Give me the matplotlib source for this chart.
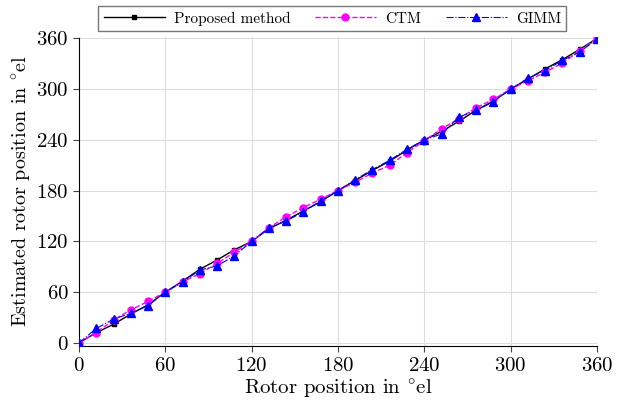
import numpy as np
import matplotlib.pyplot as plt

plt.rcParams['font.family'] = 'serif'
plt.rcParams['font.serif'] = ['cmr10']
plt.rcParams['mathtext.fontset'] = 'cm'
plt.rcParams['axes.formatter.use_mathtext'] = True

# rotor positions (deg el), every 12 deg
theta = np.arange(0, 361, 12)

proposed = [0, 12, 22, 34, 45, 60, 73, 87, 98, 110, 120, 135, 145, 156, 167, 180,
            192, 204, 215, 228, 240, 250, 262, 275, 286, 300, 312, 324, 335, 347, 360]
ctm = [0, 12, 27, 39, 49, 60, 72, 82, 94, 107, 120, 136, 149, 160, 170, 180,
       190, 201, 210, 225, 239, 253, 265, 278, 288, 300, 310, 320, 331, 345, 360]
gimm = [0, 17, 28, 35, 44, 60, 72, 86, 91, 103, 120, 136, 144, 155, 168, 180,
        193, 205, 216, 229, 240, 247, 267, 275, 285, 300, 313, 322, 334, 344, 359]

fig = plt.figure(figsize=(6.27, 4.04), dpi=100)
ax = fig.add_axes([0.126, 0.143, 0.826, 0.766])

ax.plot(theta, proposed, color='black', lw=1.0, ls='-', marker='s', ms=3.5,
        label='Proposed method', zorder=3)
ax.plot(theta, ctm, color='magenta', lw=1.0, ls='--', marker='o', ms=5,
        label='CTM', zorder=4)
ax.plot(theta, gimm, color='blue', lw=0.8, ls='-.', marker='^', ms=5.5,
        label='GIMM', zorder=5)

ax.set_xlim(0, 360)
ax.set_ylim(-4, 362)
ax.set_xticks(np.arange(0, 361, 60))
ax.set_yticks(np.arange(0, 361, 60))
ax.grid(True, color='#dddddd', lw=0.8)
ax.set_axisbelow(True)
ax.spines['top'].set_visible(False)
ax.spines['right'].set_visible(False)
ax.spines['left'].set_bounds(0, 360)
ax.tick_params(labelsize=15, direction='out', length=4, color='#444444')

ax.set_xlabel(r'Rotor position in $^{\circ}$el', fontsize=15, labelpad=2)
ax.set_ylabel(r'Estimated rotor position in $^{\circ}$el', fontsize=14.5, labelpad=2)

leg = fig.legend(loc='upper center', bbox_to_anchor=(0.530, 0.985), ncol=3,
                 fontsize=11, frameon=True, fancybox=False, edgecolor='#555555',
                 handlelength=4.0, handletextpad=0.6, columnspacing=1.6,
                 borderpad=0.35, borderaxespad=0)
leg.get_frame().set_linewidth(1.0)

fig.savefig('out.png', dpi=100)
